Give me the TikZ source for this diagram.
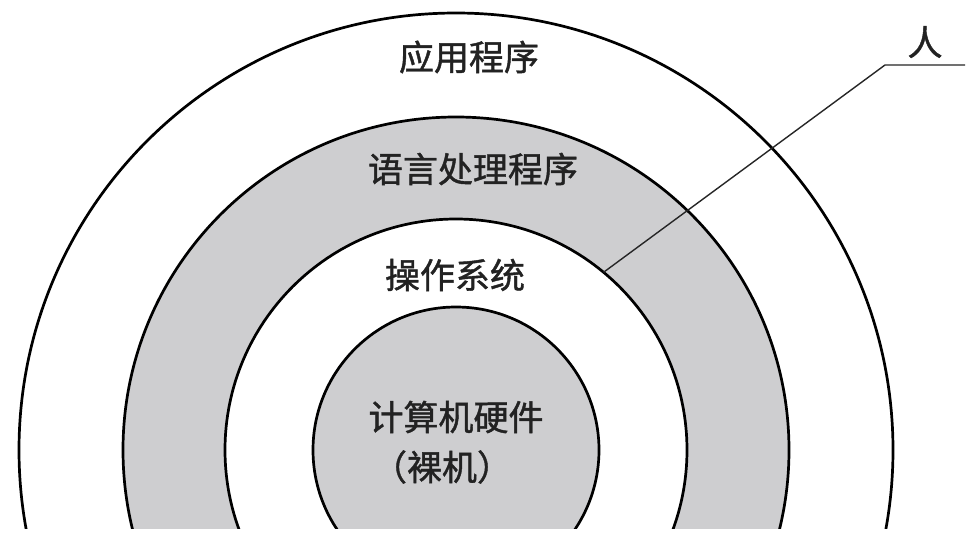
\documentclass[tikz,border=0pt]{standalone}
\usepackage{fontspec}
\usetikzlibrary{calc}
\newfontfamily\cjk[FakeBold=1.2]{Noto Sans CJK SC}
\definecolor{ringgray}{RGB}{206,206,208}
\definecolor{txt}{RGB}{34,34,34}
\tikzset{
  ring/.style={draw=black, line width=2.7pt},
  lbl/.style={text=txt, font=\cjk\fontsize{35}{40}\selectfont, inner sep=0pt},
  leader/.style={draw=black!85, line width=1.4pt}
}
\begin{document}
\begin{tikzpicture}[x=1pt,y=-1pt]
\useasboundingbox (0,0) rectangle (974,533);
\fill[white] (0,0) rectangle (974,533);
\coordinate (c) at (456,450);
\begin{scope}
  \clip (-10,-10) rectangle (984,528);
  \filldraw[ring, fill=white] (c) circle [radius=437];
  \filldraw[ring, fill=ringgray] (c) circle [radius=333];
  \filldraw[ring, fill=white] (c) circle [radius=231];
  \filldraw[ring, fill=ringgray] (c) circle [radius=143];
\end{scope}
\node[lbl] (app) at (469,57) {应用程序};
\node[lbl] (lang) at (473,169) {语言处理程序};
\node[lbl] (os) at (455,275) {操作系统};
\node[lbl] (hw) at (456,417) {计算机硬件};
\node[lbl] (bare) at (442,467) {（裸机）};
\node[lbl] (person) at (925,42) {人};
\coordinate (lstart) at ($(c)+(-50.3:231)$);
\coordinate (elbow) at (885,65);
\coordinate (lend) at (965,65);
\draw[leader] (lstart) -- (elbow) -- (lend);
\end{tikzpicture}
\end{document}
